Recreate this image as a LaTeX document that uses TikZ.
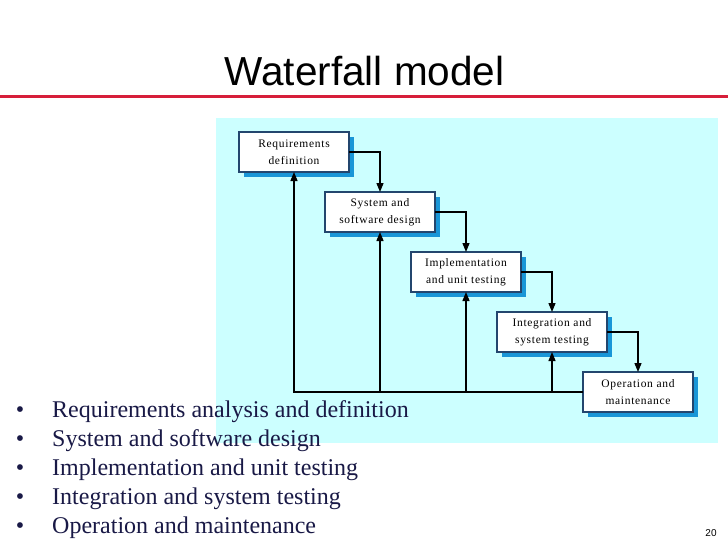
\documentclass[tikz,border=0pt]{standalone}
\usepackage{fontspec}
\setmainfont{Liberation Serif}
\newfontfamily\titlefont{Liberation Sans}
\newfontfamily\boxfont[LetterSpace=6]{Liberation Serif}
\usetikzlibrary{arrows.meta,positioning,shadows}

\definecolor{slidered}{RGB}{214,30,58}
\definecolor{panelcyan}{RGB}{204,255,255}
\definecolor{boxline}{RGB}{35,70,110}
\definecolor{boxshadow}{RGB}{25,150,215}
\definecolor{bullettext}{RGB}{25,25,70}

\begin{document}
\begin{tikzpicture}[
  x=1pt, y=-1pt,
  >={Triangle[length=9pt,width=7pt]},
  phase/.style={draw=boxline, line width=1.2pt, fill=white, outer sep=0pt,
                minimum width=110pt, minimum height=40pt, inner sep=0pt,
                align=center, font=\boxfont\fontsize{11.5}{17}\selectfont,
                drop shadow={shadow xshift=5pt, shadow yshift=-5pt,
                             fill=boxshadow, opacity=1}},
  flow/.style={->, line width=1.3pt},
  item/.style={anchor=base west, inner sep=0pt, text=bullettext,
               font=\fontsize{24}{29}\selectfont},
  dot/.style={item, anchor=base},
]
\useasboundingbox (0,0) rectangle (728,546);

% ---- slide title and rule ----------------------------------------------
\node[anchor=base, inner sep=0pt, font=\titlefont\fontsize{40.5}{48}\selectfont]
  (title) at (364.5,85) {Waterfall model};
\draw[slidered, line width=3pt] (0,96) -- (728,96);

% ---- diagram panel -----------------------------------------------------
\fill[panelcyan] (216,118) rectangle (718,443);

% ---- phases, stepping down to the right --------------------------------
\node[phase, anchor=north west] (req) at (239,132) {Requirements\\definition};
\node[phase, below right=20pt and -24pt of req] (sys) {System and\\software design};
\node[phase, below right=20pt and -24pt of sys] (impl) {Implementation\\and unit testing};
\node[phase, below right=20pt and -24pt of impl] (integ) {Integration and\\system testing};
\node[phase, below right=20pt and -24pt of integ] (ops) {Operation and\\maintenance};

% ---- forward flow ------------------------------------------------------
\draw[flow] (req.east)   -| (sys.north);
\draw[flow] (sys.east)   -| (impl.north);
\draw[flow] (impl.east)  -| (integ.north);
\draw[flow] (integ.east) -| (ops.north);

% ---- feedback back to earlier phases -----------------------------------
\draw[flow] (ops.west) -| (req.south);
\draw[flow] (sys.south |- ops.west)   -- (sys.south);
\draw[flow] (impl.south |- ops.west)  -- (impl.south);
\draw[flow] (integ.south |- ops.west) -- (integ.south);

% ---- bullet list -------------------------------------------------------
\node[dot]  (b1) at (20,417) {\textbullet};
\node[item] (t1) at (52,417) {Requirements analysis and definition};
\node[dot]  (b2) at (20,446) {\textbullet};
\node[item] (t2) at (52,446) {System and software design};
\node[dot]  (b3) at (20,475) {\textbullet};
\node[item] (t3) at (52,475) {Implementation and unit testing};
\node[dot]  (b4) at (20,504) {\textbullet};
\node[item] (t4) at (52,504) {Integration and system testing};
\node[dot]  (b5) at (20,533) {\textbullet};
\node[item] (t5) at (52,533) {Operation and maintenance};

% ---- page number -------------------------------------------------------
\node[font=\titlefont\fontsize{10}{12}\selectfont] (pagenum) at (711,533) {20};

\end{tikzpicture}
\end{document}
